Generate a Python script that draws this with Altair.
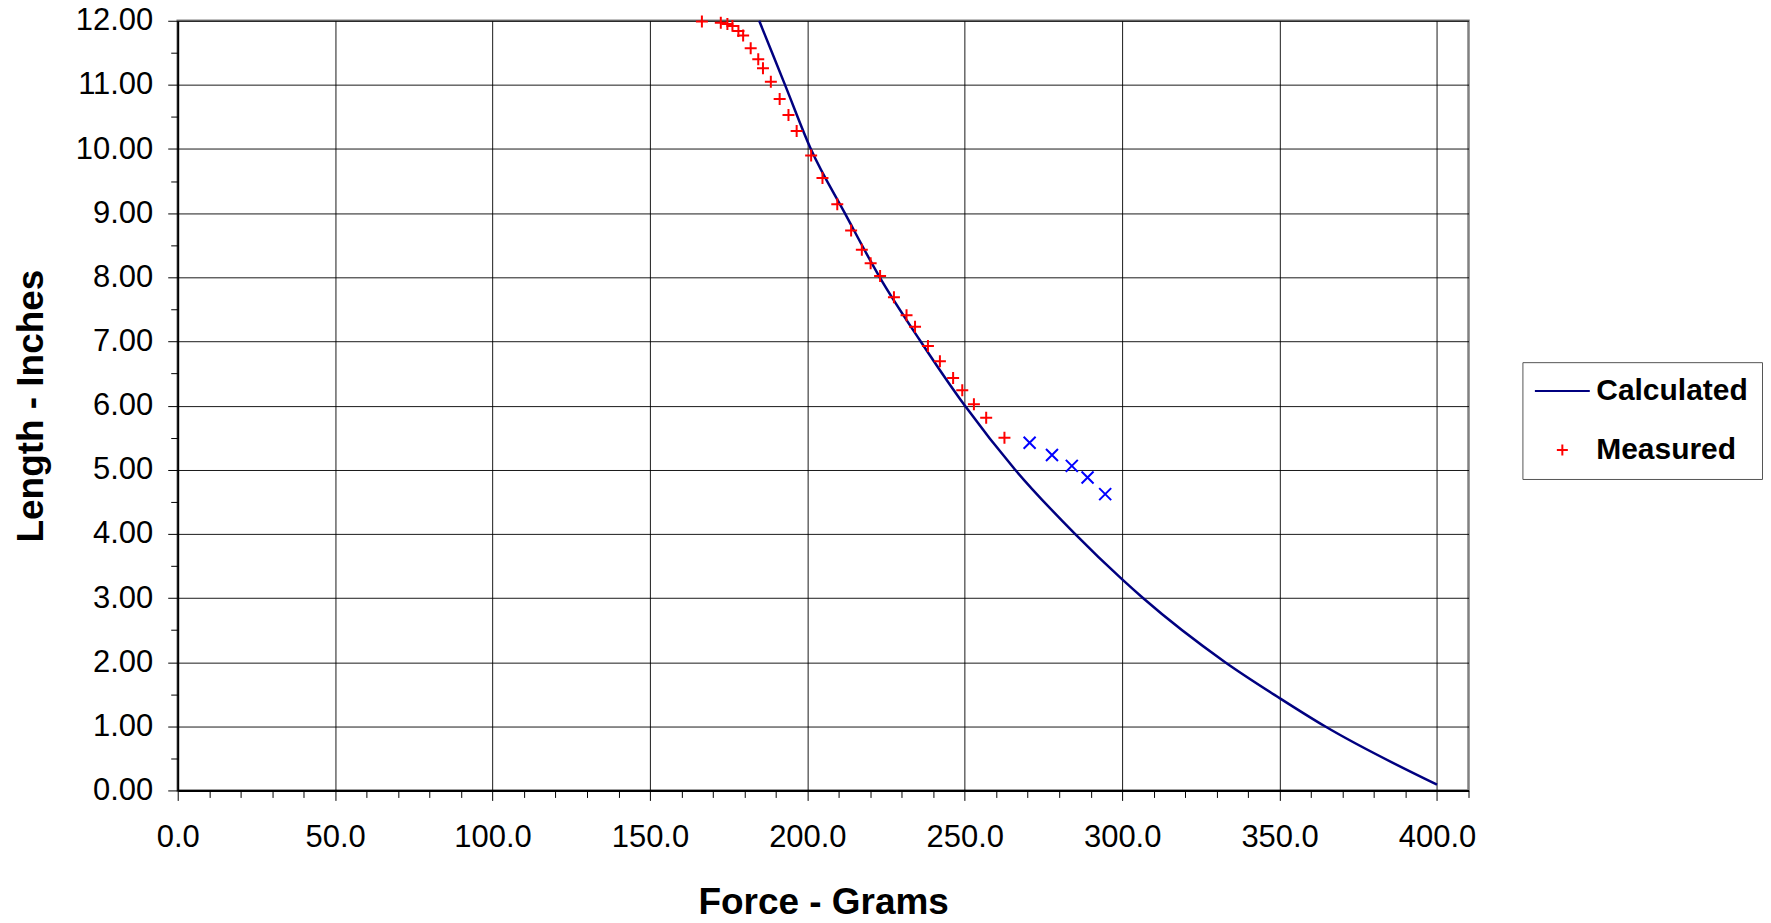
import altair as alt
import pandas as pd

# ---- data ----
calc_force = [184.7, 192.9, 201.1, 211.9, 223.0, 236.0, 250.0, 266.0, 285.0,
              300.0, 306.6, 332.7, 350.0, 364.4, 400.0]
calc_length = [12.0, 11.0, 10.0, 9.0, 8.0, 7.0, 6.0, 5.0, 4.0,
               3.29, 3.0, 2.0, 1.44, 1.0, 0.09]

meas_force = [166.5, 172.5, 174.6, 176.2, 178.1, 179.6, 182.0, 184.4, 185.9, 188.4,
              191.2, 194.0, 196.6, 201.2, 204.8, 209.5, 213.9, 217.3, 220.1, 223.1,
              227.5, 231.5, 234.2, 238.3, 242.1, 246.3, 249.2, 252.9, 256.8, 262.6]
meas_length = [11.99, 11.97, 11.95, 11.92, 11.84, 11.77, 11.57, 11.40, 11.26, 11.05,
               10.78, 10.53, 10.28, 9.90, 9.55, 9.14, 8.73, 8.43, 8.22, 8.02,
               7.69, 7.41, 7.23, 6.93, 6.69, 6.43, 6.24, 6.02, 5.81, 5.50]

extra_force = [270.6, 277.7, 284.0, 289.0, 294.6]
extra_length = [5.42, 5.23, 5.06, 4.88, 4.62]

series_names = ["Calculated", "Measured", "Extra"]
series_colors = ["#000080", "#FF0000", "#0000FF"]
series_shapes = ["M-5,0H5", "M-1,0H1M0,-1V1", "M-1,-1L1,1M-1,1L1,-1"]
legend_values = ["Calculated", "Measured"]

x_ticks = list(range(0, 411, 10))
y_ticks = [i * 0.5 for i in range(0, 25)]

calc_df = pd.DataFrame({"force": calc_force, "length": calc_length})
pts_df = pd.DataFrame({
    "force": meas_force + extra_force,
    "length": meas_length + extra_length,
    "series": ["Measured"] * len(meas_force) + ["Extra"] * len(extra_force),
})

FONT = "Liberation Sans"

x_scale = alt.Scale(domain=[0, 410], nice=False, zero=False)
y_scale = alt.Scale(domain=[0, 12], nice=False)

x_axis = alt.Axis(
    values=x_ticks,
    labelExpr="datum.value % 50 === 0 ? format(datum.value, '.1f') : ''",
    labelOverlap=False, labelFlush=False,
    labelFont=FONT, labelFontSize=31, labelColor="#000", labelPadding=22,
    tickSize={"condition": {"test": "datum.value % 50 === 0", "value": 10}, "value": 7},
    tickColor="#000", tickWidth=1,
    domainColor="#000", domainWidth=2,
    grid=True, gridColor="#000", gridWidth=1,
    gridOpacity={"condition": {"test": "datum.value % 50 === 0 && datum.value > 0 && datum.value < 410", "value": 0.9}, "value": 0},
    title="Force - Grams", titleFont=FONT, titleFontSize=37, titleFontWeight="bold",
    titleColor="#000", titleBaseline="alphabetic", titleY=123,
)

y_axis = alt.Axis(
    values=y_ticks,
    labelExpr="datum.value % 1 === 0 ? format(datum.value, '.2f') : ''",
    labelOverlap=False, labelFlush=False,
    labelFont=FONT, labelFontSize=31, labelColor="#000", labelPadding=15,
    tickSize={"condition": {"test": "datum.value % 1 === 0", "value": 10}, "value": 7},
    tickColor="#000", tickWidth=1,
    domainColor="#000", domainWidth=2,
    grid=True, gridColor="#000", gridWidth=1,
    gridOpacity={"condition": {"test": "datum.value % 1 === 0 && datum.value > 0", "value": 0.9}, "value": 0},
    title="Length - Inches", titleFont=FONT, titleFontSize=37, titleFontWeight="bold",
    titleColor="#000", titleBaseline="alphabetic", titleX=-135,
)

legend = alt.Legend(
    values=legend_values, title=None, orient="none", legendX=1347, legendY=342,
    padding=14, strokeColor="#555", fillColor="#fff",
    labelFont=FONT, labelFontSize=30, labelFontWeight="bold", labelColor="#000",
    symbolSize=121, symbolStrokeWidth=2, symbolOffset=11, labelOffset=19,
    rowPadding=29,
)

line = alt.Chart(calc_df).mark_line(
    color="#000080", strokeWidth=2.5, interpolate="monotone", clip=False
).encode(
    x=alt.X("force:Q", scale=x_scale, axis=x_axis),
    y=alt.Y("length:Q", scale=y_scale, axis=y_axis),
)

points = alt.Chart(pts_df).mark_point(
    filled=False, size=144, strokeWidth=2, opacity=1, clip=False
).encode(
    x=alt.X("force:Q", scale=x_scale, axis=x_axis),
    y=alt.Y("length:Q", scale=y_scale, axis=y_axis),
    color=alt.Color("series:N", scale=alt.Scale(domain=series_names, range=series_colors), legend=legend),
    shape=alt.Shape("series:N", scale=alt.Scale(domain=series_names, range=series_shapes), legend=legend),
)

chart = alt.layer(line, points).properties(
    width=1293, height=771,
    autosize=alt.AutoSizeParams(type="none"),
    padding={"left": 170, "top": 12, "right": 295, "bottom": 124},
    background="#ffffff",
).configure_view(
    stroke="#808080", strokeWidth=2.5
)

chart.save("out.html", embed_options={"renderer": "svg", "actions": False})
